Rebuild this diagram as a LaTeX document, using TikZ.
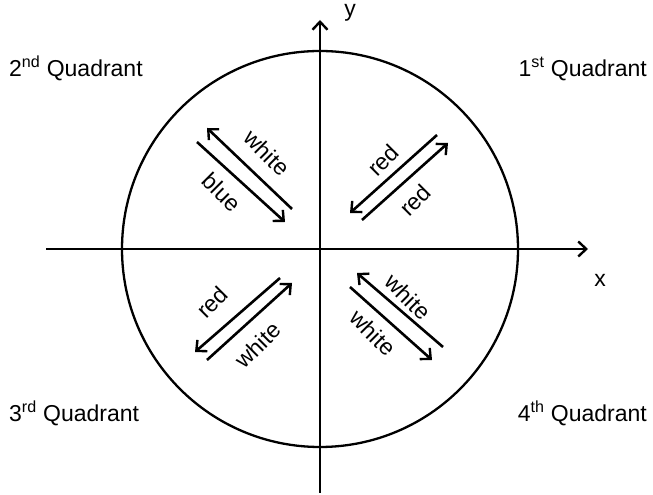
\documentclass[tikz,border=0pt]{standalone}
\usepackage{fontspec}
\setmainfont{Liberation Sans}
\usetikzlibrary{arrows.meta}
\begin{document}
\begin{tikzpicture}[x=1pt,y=1pt,
  vec/.style={line width=2.6pt,-{Straight Barb[length=8pt,width=15pt,line width=2.4pt]}},
  lbl/.style={inner sep=0pt,font=\fontsize{23}{27}\selectfont},
  quad/.style={inner sep=0pt,font=\fontsize{23}{27}\selectfont}]
\useasboundingbox (0,0) rectangle (653,495);
\coordinate (O) at (320,246);
\coordinate (xl) at (46,246);
\coordinate (xr) at (588,246);
\coordinate (yb) at (320,2);
\coordinate (yt) at (320,475);
\draw[line width=2.3pt] (O) circle[radius=198];
\draw[vec] (xl) -- (xr);
\draw[vec] (yb) -- (yt);
\node[lbl,anchor=base] (xlab) at (600,208) {x};
\node[lbl,anchor=base] (ylab) at (350,478) {y};
% 2nd quadrant
\coordinate (a1s) at (292,286); \coordinate (a1e) at (207,367);
\coordinate (a2s) at (197,353); \coordinate (a2e) at (285,273);
\draw[vec] (a1s) -- (a1e);
\draw[vec] (a2s) -- (a2e);
\node[lbl,rotate=-45] (w2) at (267,342) {white};
\node[lbl,rotate=-45] (b2) at (222,303) {blue};
% 1st quadrant
\coordinate (b1s) at (437,360); \coordinate (b1e) at (350,282);
\coordinate (b2s) at (362,275); \coordinate (b2e) at (448,352);
\draw[vec] (b1s) -- (b1e);
\draw[vec] (b2s) -- (b2e);
\node[lbl,rotate=45] (r1a) at (383,335) {red};
\node[lbl,rotate=45] (r1b) at (415,295) {red};
% 3rd quadrant
\coordinate (c1s) at (280,217); \coordinate (c1e) at (195,143);
\coordinate (c2s) at (207,135); \coordinate (c2e) at (292,212);
\draw[vec] (c1s) -- (c1e);
\draw[vec] (c2s) -- (c2e);
\node[lbl,rotate=45] (r3) at (212,193) {red};
\node[lbl,rotate=45] (w3) at (258,150) {white};
% 4th quadrant
\coordinate (d1s) at (443,148); \coordinate (d1e) at (357,222);
\coordinate (d2s) at (350,208); \coordinate (d2e) at (432,135);
\draw[vec] (d1s) -- (d1e);
\draw[vec] (d2s) -- (d2e);
\node[lbl,rotate=-45] (w4a) at (408,198) {white};
\node[lbl,rotate=-45] (w4b) at (373,162) {white};
% quadrant names
\node[quad,anchor=base west] (q2) at (9,418) {2\textsuperscript{nd} Quadrant};
\node[quad,anchor=base east] (q1) at (647,418) {1\textsuperscript{st} Quadrant};
\node[quad,anchor=base west] (q3) at (9,73) {3\textsuperscript{rd} Quadrant};
\node[quad,anchor=base east] (q4) at (647,73) {4\textsuperscript{th} Quadrant};
\end{tikzpicture}
\end{document}
